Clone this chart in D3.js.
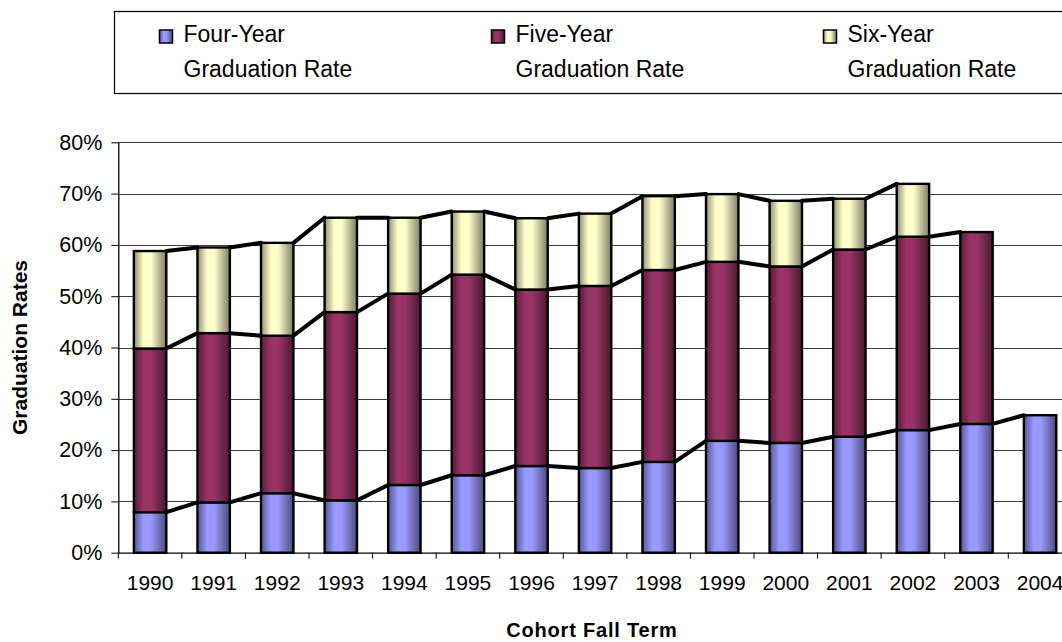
<!DOCTYPE html>
<html>
<head>
<meta charset="utf-8">
<script src="https://cdn.jsdelivr.net/npm/d3@7"></script>
<style>
  html, body { margin: 0; padding: 0; background: #fff; }
  svg { display: block; font-family: "Liberation Sans", Arial, sans-serif; }
</style>
</head>
<body>
<svg id="chart" width="1062" height="642"></svg>
<script>
// cohort years on the x axis
const years = ['1990', '1991', '1992', '1993', '1994', '1995', '1996', '1997',
  '1998', '1999', '2000', '2001', '2002', '2003', '2004'];

// stacked segments, percentage points (null = not yet available)
const fourYear = [7.9, 9.8, 11.6, 10.2, 13.2, 15.1, 16.9, 16.5, 17.7, 21.8, 21.4, 22.6, 23.9, 25.1, 26.8];
const fiveYear = [31.9, 33.0, 30.7, 36.7, 37.3, 39.1, 34.4, 35.5, 37.4, 34.9, 34.4, 36.5, 37.7, 37.4, null];
const sixYear = [19.0, 16.7, 18.1, 18.4, 14.8, 12.3, 13.9, 14.1, 14.4, 13.2, 12.8, 9.9, 10.3, null, null];

const seriesNames = ['Four-Year', 'Five-Year', 'Six-Year'];
const seriesColors = ['#9999ff', '#993366', '#ffffcc'];
const yTicks = [0, 10, 20, 30, 40, 50, 60, 70, 80];

const svg = d3.select('#chart');
const margin = { left: 118.3, top: 142.3, bottom: 552.7 };
const step = 63.57;

const x = d3.scaleBand()
  .domain(years)
  .range([margin.left, margin.left + step * years.length])
  .paddingInner(0.49)
  .paddingOuter(0.245);

const y = d3.scaleLinear().domain([0, 80]).range([margin.bottom, margin.top]);

// gradients (dark edges, light centre) like the Excel fill
const defs = svg.append('defs');
seriesColors.forEach((c, i) => {
  const base = d3.color(c);
  const g = defs.append('linearGradient')
    .attr('id', 'grad' + i)
    .attr('x1', '0%').attr('x2', '100%').attr('y1', '0%').attr('y2', '0%');
  g.append('stop').attr('offset', '0%').attr('stop-color', base.darker(1.6));
  g.append('stop').attr('offset', '30%').attr('stop-color', base);
  g.append('stop').attr('offset', '52%').attr('stop-color', base);
  g.append('stop').attr('offset', '100%').attr('stop-color', base.darker(2));
});

// gridlines
svg.append('g')
  .selectAll('line')
  .data(yTicks.slice(1))
  .enter()
  .append('line')
  .attr('x1', margin.left)
  .attr('x2', 1062)
  .attr('y1', d => Math.round(y(d)) + 0.5)
  .attr('y2', d => Math.round(y(d)) + 0.5)
  .attr('stroke', '#3a3a3a')
  .attr('stroke-width', 1);

// stack the data
const table = years.map((yr, i) => ({
  year: yr,
  four: fourYear[i] || 0,
  five: fiveYear[i] || 0,
  six: sixYear[i] || 0
}));
const raw = [fourYear, fiveYear, sixYear];
const stacked = d3.stack().keys(['four', 'five', 'six'])(table);

// bars
svg.append('g')
  .selectAll('g')
  .data(stacked)
  .enter()
  .append('g')
  .attr('fill', (d, i) => `url(#grad${i})`)
  .selectAll('rect')
  .data((d, i) => d.map((p, j) => ({ p: p, v: raw[i][j] })).filter(o => o.v !== null))
  .enter()
  .append('rect')
  .attr('x', d => x(d.p.data.year))
  .attr('y', d => y(d.p[1]))
  .attr('width', x.bandwidth())
  .attr('height', d => y(d.p[0]) - y(d.p[1]))
  .attr('stroke', '#000')
  .attr('stroke-width', 2.4);

// series lines joining the bar tops
stacked.forEach((s, i) => {
  const vals = raw[i];
  for (let j = 0; j < years.length - 1; j++) {
    if (vals[j] === null || vals[j + 1] === null) continue;
    svg.append('line')
      .attr('x1', x(years[j]) + x.bandwidth())
      .attr('y1', y(s[j][1]))
      .attr('x2', x(years[j + 1]))
      .attr('y2', y(s[j + 1][1]))
      .attr('stroke', '#000')
      .attr('stroke-width', 4)
      .attr('stroke-linecap', 'round');
  }
});

// y axis
const yAxis = svg.append('g')
  .attr('transform', `translate(${margin.left}, 0)`)
  .call(d3.axisLeft(y).tickValues(yTicks).tickFormat(d => d + '%').tickSize(7).tickPadding(9).tickSizeOuter(0));
yAxis.select('.domain').attr('stroke', '#000').attr('stroke-width', 1.3);
yAxis.selectAll('.tick line').attr('stroke', '#000');
yAxis.selectAll('.tick text')
  .attr('font-size', 21.5)
  .attr('fill', '#000')
  .attr('font-family', '"Liberation Sans", Arial, sans-serif');

// x axis: labels centred, ticks on category boundaries
const xAxis = svg.append('g')
  .attr('transform', `translate(0, ${margin.bottom})`)
  .call(d3.axisBottom(x).tickSize(0).tickPadding(22).tickSizeOuter(0));
xAxis.select('.domain').attr('stroke', '#000').attr('stroke-width', 1.3);
xAxis.selectAll('.tick text')
  .attr('font-size', 21)
  .attr('fill', '#000')
  .attr('font-family', '"Liberation Sans", Arial, sans-serif');

svg.append('g')
  .selectAll('line')
  .data(years)
  .enter()
  .append('line')
  .attr('x1', d => x(d) - x.step() * x.paddingOuter())
  .attr('x2', d => x(d) - x.step() * x.paddingOuter())
  .attr('y1', margin.bottom)
  .attr('y2', margin.bottom + 6)
  .attr('stroke', '#000');

// axis titles
svg.append('text')
  .attr('x', 592)
  .attr('y', 637)
  .attr('text-anchor', 'middle')
  .attr('font-size', 20)
  .attr('font-weight', 'bold')
  .attr('letter-spacing', 0.8)
  .text('Cohort Fall Term');

svg.append('text')
  .attr('transform', `translate(27, ${(margin.top + margin.bottom) / 2}) rotate(-90)`)
  .attr('text-anchor', 'middle')
  .attr('font-size', 21)
  .attr('font-weight', 'bold')
  .text('Graduation Rates');

// legend
const legend = svg.append('g');
legend.append('rect')
  .attr('x', 114.5)
  .attr('y', 11.5)
  .attr('width', 1000)
  .attr('height', 82)
  .attr('fill', '#fff')
  .attr('stroke', '#000')
  .attr('stroke-width', 1.2);

const legendX = [159.5, 491.5, 823.5];
seriesNames.forEach((name, i) => {
  const g = legend.append('g').attr('transform', `translate(${legendX[i]}, 0)`);
  g.append('rect')
    .attr('x', 0).attr('y', 30)
    .attr('width', 13).attr('height', 13)
    .attr('fill', `url(#grad${i})`)
    .attr('stroke', '#000')
    .attr('stroke-width', 1.5);
  g.append('text')
    .attr('x', 24).attr('y', 42)
    .attr('font-size', 23)
    .text(name);
  g.append('text')
    .attr('x', 24).attr('y', 77)
    .attr('font-size', 23)
    .text('Graduation Rate');
});
</script>
</body>
</html>
